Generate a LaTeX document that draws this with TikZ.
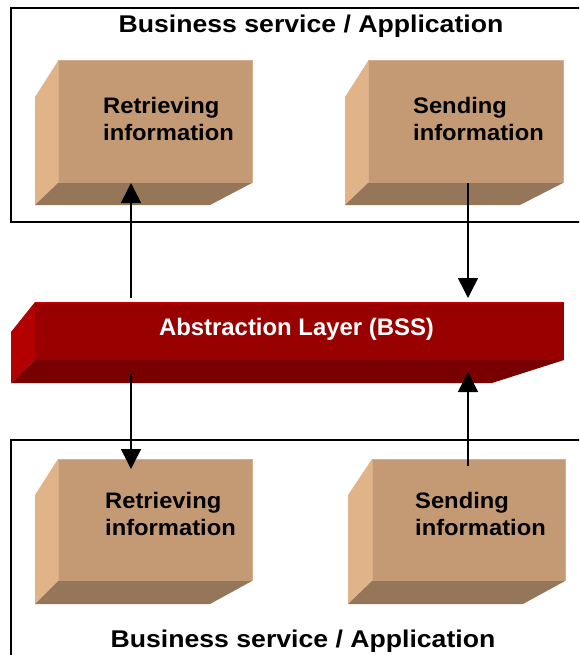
\documentclass[tikz,border=0pt]{standalone}
\usepackage{fontspec}
\setmainfont{Liberation Sans}
\newfontfamily\titlefont{Liberation Sans}[FakeStretch=1.1]
\newfontfamily\boxfont{Liberation Sans}[FakeStretch=1.06]
\usetikzlibrary{arrows.meta}
\definecolor{tanfront}{HTML}{C49A74}
\definecolor{tanedge}{HTML}{D6AE88}
\definecolor{tanside}{HTML}{E0B488}
\definecolor{tanbottom}{HTML}{967658}
\definecolor{redfront}{HTML}{990000}
\definecolor{redside}{HTML}{B30000}
\definecolor{redbottom}{HTML}{780000}
\newcommand\mycuboid[8]{%
  \fill[tanside] (#1,#2) -- (#5,#6) -- (#5,#7) -- (#1,#4) -- cycle;
  \fill[tanbottom] (#1,#4) -- (#5,#7) -- (#8,#7) -- (#3,#4) -- cycle;
  \fill[tanfront] (#1,#2) rectangle (#3,#4);
  \draw[tanedge, line width=1pt] (#1,#4) -- (#1,#2) -- (#3,#2) -- (#3,#4);
}
\begin{document}
\begin{tikzpicture}[x=1pt,y=-1pt,
  frame/.style={draw=black, line width=2pt},
  arr/.style={draw=black, line width=1.5pt, -{Triangle[length=20pt,width=20pt]}},
  titletext/.style={inner sep=0pt, font=\titlefont\bfseries\fontsize{24.2}{29}\selectfont},
  boxtext/.style={inner sep=0pt, align=left, font=\boxfont\bfseries\fontsize{22.4}{27}\selectfont},
  layertext/.style={inner sep=0pt, text=white, font=\bfseries\fontsize{23.9}{28}\selectfont}]
\useasboundingbox (0,0) rectangle (579,655);
\clip (0,0) rectangle (579,655);
\fill[white] (0,0) rectangle (579,655);

% outer frames
\draw[frame] (11,8) rectangle (585,222);
\draw[frame] (11,440) rectangle (585,665);

% titles
\node[titletext, anchor=base] (title1) at (311,33) {Business service / Application};
\node[titletext, anchor=base] (title2) at (303,647) {Business service / Application};

% top boxes
\mycuboid{58}{61}{252}{183}{35}{97}{205}{210}
\mycuboid{368}{61}{563}{183}{345}{97}{205}{520}
% bottom boxes
\mycuboid{58}{459}{252}{581}{35}{495}{604}{210}
\mycuboid{372}{459}{565}{581}{348}{495}{604}{523}

\node[boxtext, anchor=north west] (tl) at (103,97) {Retrieving\\information};
\node[boxtext, anchor=north west] (tr) at (413,97) {Sending\\information};
\node[boxtext, anchor=north west] (bl) at (105,492) {Retrieving\\information};
\node[boxtext, anchor=north west] (br) at (415,492) {Sending\\information};

% abstraction layer
\fill[redside] (35,302) -- (11,332) -- (11,383) -- (35,360) -- cycle;
\fill[redbottom] (35,360) -- (11,383) -- (492,383) -- (564,360) -- cycle;
\fill[redfront] (35,302) rectangle (564,360);
\draw[red!55!redfront, line width=0.8pt] (35,302) -- (564,302);
\node[layertext, anchor=base] (layer) at (296.5,335) {Abstraction Layer (BSS)};

% arrows
\coordinate (a1s) at (131,298);
\coordinate (a1e) at (131,183);
\coordinate (a2s) at (468,183);
\coordinate (a2e) at (468,298);
\coordinate (a3s) at (131,374);
\coordinate (a3e) at (131,469);
\coordinate (a4s) at (468,466);
\coordinate (a4e) at (468,372);
\draw[arr] (a1s) -- (a1e);
\draw[arr] (a2s) -- (a2e);
\draw[arr] (a3s) -- (a3e);
\draw[arr] (a4s) -- (a4e);
\end{tikzpicture}
\end{document}
